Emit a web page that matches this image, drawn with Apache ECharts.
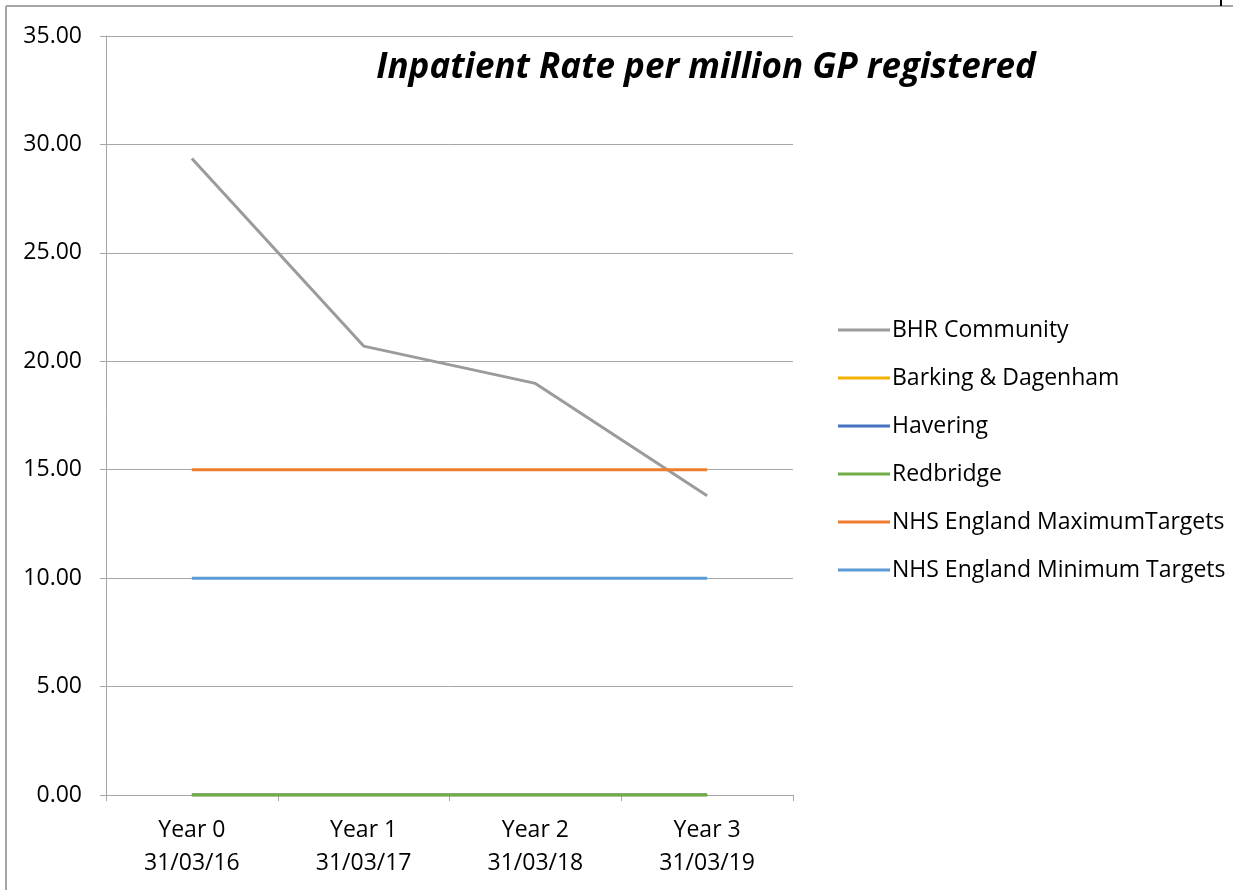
<!DOCTYPE html>
<html>
<head>
<meta charset="utf-8">
<script src="https://cdn.jsdelivr.net/npm/echarts@6/dist/echarts.min.js"></script>
<style>
  html, body { margin: 0; padding: 0; background: #fff; }
  #chart { width: 1237px; height: 890px; }
</style>
</head>
<body>
<div id="chart"></div>
<script>
var categories = ['Year 0\n31/03/16', 'Year 1\n31/03/17', 'Year 2\n31/03/18', 'Year 3\n31/03/19'];
var seriesNames = ['BHR Community', 'Barking & Dagenham', 'Havering', 'Redbridge', 'NHS England MaximumTargets', 'NHS England Minimum Targets'];
var bhrCommunity = [29.35, 20.70, 18.98, 13.80];
var barkingDagenham = [0, 0, 0, 0];
var havering = [0, 0, 0, 0];
var redbridge = [0, 0, 0, 0];
var maxTargets = [15, 15, 15, 15];
var minTargets = [10, 10, 10, 10];
var colors = ['#9B9B9B', '#F2B200', '#4472C4', '#70AD47', '#ED7D31', '#5B9BD5'];

var myChart = echarts.init(document.getElementById('chart'));

var allData = [bhrCommunity, barkingDagenham, havering, redbridge, maxTargets, minTargets];
var series = [];
for (var i = 0; i < seriesNames.length; i++) {
	series.push({
		name: seriesNames[i],
		type: 'line',
		data: allData[i],
		symbol: 'none',
		lineStyle: { width: 3, color: colors[i] },
		itemStyle: { color: colors[i] },
		animation: false
	});
}

var option = {
	animation: false,
	color: colors,
	textStyle: { fontFamily: 'Open Sans' },
	title: {
		text: 'Inpatient Rate per million GP registered',
		left: 701,
		textAlign: 'center',
		top: 46,
		textStyle: {
			fontFamily: 'Open Sans',
			fontSize: 35,
			fontStyle: 'italic',
			fontWeight: 'bold',
			color: '#000'
		}
	},
	legend: {
		orient: 'vertical',
		left: 833,
		top: 313,
		icon: 'rect',
		itemWidth: 52,
		itemHeight: 3,
		itemGap: 24,
		data: seriesNames,
		textStyle: { fontSize: 23, color: '#000', lineHeight: 24, padding: [0, 0, 0, -3] }
	},
	grid: {
		left: 106,
		right: 444,
		top: 36,
		bottom: 95,
		containLabel: false
	},
	xAxis: {
		type: 'category',
		data: categories,
		boundaryGap: true,
		axisLine: { lineStyle: { color: '#A6A6A6', width: 1 } },
		axisTick: { show: true, length: 6, lineStyle: { color: '#A6A6A6' } },
		axisLabel: { fontSize: 23, color: '#000', lineHeight: 33, margin: 19 },
		splitLine: { show: false }
	},
	yAxis: {
		type: 'value',
		min: 0,
		max: 35,
		interval: 5,
		axisLine: { show: true, lineStyle: { color: '#A6A6A6', width: 1 } },
		axisTick: { show: true, length: 6, lineStyle: { color: '#A6A6A6' } },
		axisLabel: {
			fontSize: 23,
			color: '#000',
			margin: 24,
			formatter: function (v) { return v.toFixed(2); }
		},
		splitLine: { lineStyle: { color: '#A6A6A6', width: 1 } }
	},
	graphic: [
		{ type: 'line', shape: { x1: 6, y1: 6, x2: 1233, y2: 6 }, style: { stroke: '#A6A6A6', lineWidth: 2 } },
		{ type: 'line', shape: { x1: 6, y1: 6, x2: 6, y2: 890 }, style: { stroke: '#A6A6A6', lineWidth: 2 } },
		{ type: 'line', shape: { x1: 1221, y1: 0, x2: 1221, y2: 6 }, style: { stroke: '#000', lineWidth: 2 } }
	],
	series: series
};

myChart.setOption(option);
</script>
</body>
</html>
